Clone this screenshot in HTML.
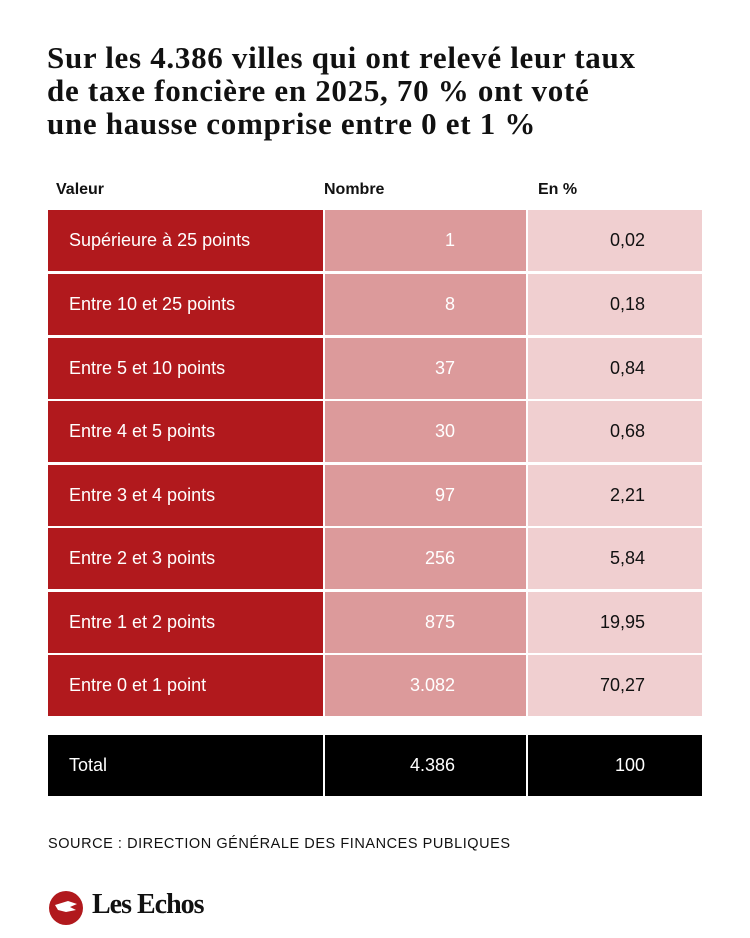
<!DOCTYPE html>
<html><head><meta charset="utf-8"><style>
body{margin:0;width:750px;height:938px;background:#fff;position:relative;overflow:hidden;font-family:"Liberation Sans",sans-serif}
h1{position:absolute;left:47px;top:41px;margin:0;font-family:"Liberation Serif",serif;font-weight:bold;font-size:31px;line-height:33px;color:#111;letter-spacing:0.7px}
.hd{position:absolute;top:181px;font-weight:bold;font-size:16px;color:#111}
.c{position:absolute;height:61px;line-height:61px;font-size:18px}
.a{left:48px;width:275px;background:#b1191d;color:#fff;padding-left:21px;box-sizing:border-box}
.b{left:325px;width:201px;background:#dc9a9b;color:#fff;text-align:right;padding-right:71px;box-sizing:border-box}
.d{left:528px;width:174px;background:#f0cfd0;color:#111;text-align:right;padding-right:57px;box-sizing:border-box}
.t{background:#000;color:#fff}
.src{position:absolute;left:48px;top:836px;font-size:14.5px;letter-spacing:0.55px;color:#111}
.logo{position:absolute;left:48px;top:890px}
.lt{position:absolute;left:92px;top:889px;font-family:"Liberation Serif",serif;font-size:28px;font-weight:bold;letter-spacing:-1px;color:#111}
</style></head><body>
<h1>Sur les 4.386 villes qui ont relevé leur taux<br>de taxe foncière en 2025, 70 % ont voté<br>une hausse comprise entre 0 et 1 %</h1>
<div class="hd" style="left:56px">Valeur</div>
<div class="hd" style="left:324px">Nombre</div>
<div class="hd" style="left:538px">En %</div>

<div class="c a" style="top:210px">Supérieure à 25 points</div><div class="c b" style="top:210px">1</div><div class="c d" style="top:210px">0,02</div>
<div class="c a" style="top:274px">Entre 10 et 25 points</div><div class="c b" style="top:274px">8</div><div class="c d" style="top:274px">0,18</div>
<div class="c a" style="top:338px">Entre 5 et 10 points</div><div class="c b" style="top:338px">37</div><div class="c d" style="top:338px">0,84</div>
<div class="c a" style="top:401px">Entre 4 et 5 points</div><div class="c b" style="top:401px">30</div><div class="c d" style="top:401px">0,68</div>
<div class="c a" style="top:465px">Entre 3 et 4 points</div><div class="c b" style="top:465px">97</div><div class="c d" style="top:465px">2,21</div>
<div class="c a" style="top:528px">Entre 2 et 3 points</div><div class="c b" style="top:528px">256</div><div class="c d" style="top:528px">5,84</div>
<div class="c a" style="top:592px">Entre 1 et 2 points</div><div class="c b" style="top:592px">875</div><div class="c d" style="top:592px">19,95</div>
<div class="c a" style="top:655px">Entre 0 et 1 point</div><div class="c b" style="top:655px">3.082</div><div class="c d" style="top:655px">70,27</div>

<div class="c a t" style="top:735px">Total</div><div class="c b t" style="top:735px">4.386</div><div class="c d t" style="top:735px">100</div>

<div class="src">SOURCE : DIRECTION GÉNÉRALE DES FINANCES PUBLIQUES</div>
<svg class="logo" width="36" height="36" viewBox="0 0 36 36"><circle cx="18" cy="18" r="17" fill="#b1191d"/><path d="M7 15 L20 11 L29 14 L22 17 L28 20 L18 22 L10 20 Z" fill="#fff"/></svg>
<div class="lt">Les Echos</div>
</body></html>
